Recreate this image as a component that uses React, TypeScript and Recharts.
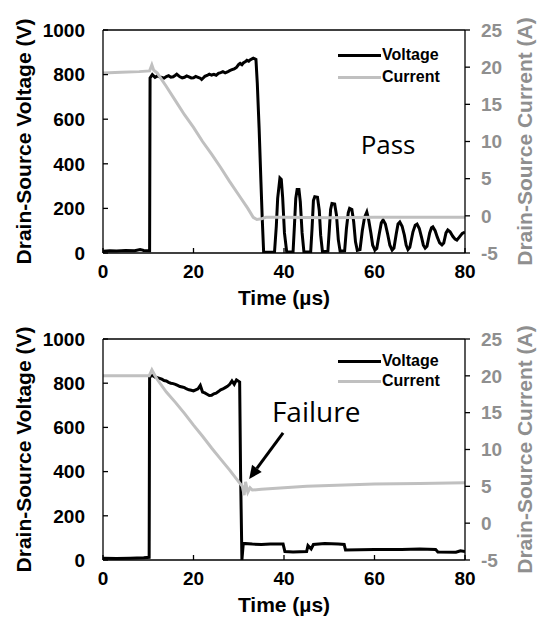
import { LineChart, Line, XAxis, YAxis, ReferenceLine, ReferenceDot, Legend } from "recharts";

const FONT = "'Liberation Sans', Arial, sans-serif";
const NOTE_FONT = "'Open Sans', sans-serif";
const VOLT_COLOR = "#000000";
const CURR_COLOR = "#c0c0c0";
const GRAY_TEXT = "#8f8f8f";

const timeTicks = [0, 20, 40, 60, 80];
const voltageTicks = [0, 200, 400, 600, 800, 1000];
const currentTicks = [-5, 0, 5, 10, 15, 20, 25];

// pass case, [time µs, volts]
const passVoltage: [number, number][] = [
  [0, 8], [1.5, 10], [3, 9], [5, 11], [7, 10], [8.2, 16], [9, 11], [10.3, 10],
  [10.4, 785], [10.9, 800], [11.5, 788], [12, 794], [12.5, 790], [13, 787], [13.5, 784], [14, 791],
  [14.5, 795], [15, 788], [15.5, 790], [16, 797], [16.3, 802], [16.8, 793], [17, 790], [17.5, 785],
  [18, 788], [18.5, 794], [19, 790], [19.5, 785], [20, 786], [20.5, 792], [21, 788], [21.5, 784],
  [21.8, 778], [22.2, 786], [22.5, 792], [23, 796], [23.5, 802], [24, 798], [24.5, 801], [25, 797],
  [25.5, 806], [26, 809], [26.5, 813], [27, 808], [27.5, 812], [28, 818], [28.5, 822], [29, 826],
  [29.5, 832], [30, 846], [30.3, 850], [30.7, 844], [31, 852], [31.5, 858], [31.8, 864], [32.2, 860],
  [32.5, 866], [33.2, 874], [33.8, 868],
  [34.1, 760], [34.5, 560], [34.9, 320], [35.2, 150], [35.5, 4],
  [37.9, 3], [38.3, 120], [38.6, 245], [38.9, 300], [39.1, 336], [39.4, 330], [39.7, 250], [40.1, 90], [40.6, 5], [42, 4],
  [42.3, 120], [42.6, 245], [42.9, 285], [43.3, 285], [43.6, 230], [44, 90], [44.4, 5], [45.9, 6],
  [46.2, 110], [46.5, 235], [46.8, 252], [47.4, 250], [47.8, 190], [48.1, 80], [48.5, 6], [49.7, 8],
  [50, 100], [50.3, 195], [50.6, 222], [51.2, 220], [51.6, 170], [52, 60], [52.4, 8], [53.4, 10],
  [53.8, 110], [54.2, 180], [54.5, 200], [55, 195], [55.4, 140], [55.8, 50], [56.2, 12], [56.8, 15],
  [57.3, 100], [57.8, 160], [58.3, 184], [58.7, 150], [59.2, 90], [59.6, 35], [60.1, 13], [60.5, 20],
  [61, 80], [61.5, 135], [61.9, 148], [62.4, 130], [62.9, 85], [63.4, 35], [63.9, 13], [64.3, 22],
  [64.8, 85], [65.2, 130], [65.6, 139], [66.1, 120], [66.6, 80], [67, 35], [67.4, 15], [67.8, 25],
  [68.5, 95], [69, 125], [69.4, 130], [69.9, 110], [70.4, 70], [70.8, 35], [71.2, 22], [71.6, 30],
  [72.2, 90], [72.6, 113], [72.9, 117], [73.4, 100], [73.9, 70], [74.4, 45], [74.9, 36], [75.3, 45],
  [75.8, 90], [76.2, 103], [76.7, 95], [77.3, 75], [77.8, 62], [78.2, 58], [78.7, 70], [79.4, 88], [80, 94],
];

// pass case, [time µs, amps]
const passCurrent: [number, number][] = [
  [0, 19.2], [4, 19.3], [8, 19.4], [10.3, 19.5], [10.8, 20.3], [11.2, 19.6], [12, 19.2],
  [14, 17.4], [16, 15.5], [18, 13.6], [20, 11.9], [22, 10.0], [24, 8.3], [26, 6.5],
  [28, 4.6], [30, 2.8], [32, 1.0], [33.2, -0.2], [34, -0.5], [35, -0.4], [36, -0.2],
  [40, -0.2], [50, -0.25], [60, -0.2], [70, -0.2], [80, -0.2],
];

// failure case, [time µs, volts]
const failVoltage: [number, number][] = [
  [0, 8], [3, 7], [6, 8], [9, 10], [10.2, 12], [10.3, 830], [11, 835], [11.5, 828], [12, 825],
  [12.5, 822], [13, 818], [13.5, 812], [14, 810], [14.5, 804], [15, 800], [15.5, 798], [16, 795],
  [16.5, 790], [17, 785], [17.5, 783], [18, 780], [18.5, 774], [19, 770], [19.5, 768], [20, 765],
  [20.5, 770], [21, 775], [21.5, 790], [22, 760], [22.5, 756], [23, 750], [23.5, 744], [24, 745],
  [24.5, 752], [25, 755], [25.5, 762], [26, 770], [26.5, 774], [27, 780], [27.5, 786], [28, 795],
  [28.5, 810], [29, 795], [29.5, 815], [30.2, 805], [30.4, 400], [30.7, 0], [31, 75],
  [33, 72], [35, 70], [37, 72], [39.8, 72], [40.2, 38], [42, 36], [45, 38], [45.3, 65],
  [46, 50], [46.5, 70], [49, 75], [52, 72], [53.3, 70], [53.6, 45], [60, 47], [66, 48],
  [70, 50], [73.5, 48], [74, 36], [78, 35], [79, 42], [80, 38],
];

// failure case, [time µs, amps]
const failCurrent: [number, number][] = [
  [0, 20.0], [5, 20.0], [10.2, 20.0], [10.8, 20.8], [11.5, 20.0], [12, 19.5], [14, 17.8],
  [16, 16.4], [18, 14.9], [20, 13.3], [22, 11.8], [24, 10.2], [26, 8.7], [28, 7.2], [30, 5.6],
  [30.8, 5.0], [31.2, 3.8], [31.5, 5.6], [32, 4.2], [32.5, 4.8], [33, 4.5], [35, 4.6],
  [40, 4.8], [45, 5.0], [50, 5.1], [55, 5.2], [60, 5.3], [70, 5.4], [80, 5.5],
];

const legendItems = [
  { name: "Voltage", color: VOLT_COLOR },
  { name: "Current", color: CURR_COLOR },
];

const arrowShape = (p: any) => {
  const { x1, y1, x2, y2 } = p;
  const ang = Math.atan2(y2 - y1, x2 - x1);
  const len = 13;
  const w = 6;
  const bx = x2 - len * Math.cos(ang);
  const by = y2 - len * Math.sin(ang);
  const pts = `${x2},${y2} ${bx + w * Math.sin(ang)},${by - w * Math.cos(ang)} ${bx - w * Math.sin(ang)},${by + w * Math.cos(ang)}`;
  return (
    <g>
      <line x1={x1} y1={y1} x2={bx} y2={by} stroke="#000" strokeWidth={3} />
      <polygon points={pts} fill="#000" />
    </g>
  );
};

interface PanelProps {
  voltage: [number, number][];
  current: [number, number][];
  top: number;
  axisHeight: number;
  titleOffset: number;
  legendTop: number;
  rowHeight: number;
  note: { text: string; t: number; v: number; size: number };
  arrow?: [{ x: number; y: number }, { x: number; y: number }];
}

function Panel({ voltage, current, top, axisHeight, titleOffset, legendTop, rowHeight, note, arrow }: PanelProps) {
  const vData = voltage.map(([t, v]) => ({ t, v }));
  const cData = current.map(([t, a]) => ({ t, a }));
  const tickStyle = { fill: "#000", fontSize: 19, fontWeight: "bold", fontFamily: FONT };

  const renderLegend = () => (
    <div>
      {legendItems.map((item) => (
        <div key={item.name} style={{ display: "flex", alignItems: "center", height: rowHeight }}>
          <div style={{ width: 43, height: 3, background: item.color, marginRight: 1 }} />
          <span style={{ fontFamily: FONT, fontWeight: "bold", fontSize: 16, color: "#000" }}>{item.name}</span>
        </div>
      ))}
    </div>
  );

  return (
    <LineChart width={542} height={313} margin={{ top, right: 0, bottom: 0, left: 0 }}>
      <XAxis
        type="number"
        dataKey="t"
        domain={[0, 80]}
        ticks={timeTicks}
        height={axisHeight}
        allowDataOverflow
        tickSize={-5}
        tickMargin={17}
        tick={tickStyle}
        axisLine={{ stroke: "#000", strokeWidth: 1.3 }}
        tickLine={{ stroke: "#000", strokeWidth: 1.3 }}
        label={{ value: "Time (µs)", position: "insideBottom", offset: titleOffset, fill: "#000", fontSize: 21, fontWeight: "bold", fontFamily: FONT }}
      />
      <YAxis
        yAxisId="left"
        domain={[0, 1000]}
        ticks={voltageTicks}
        width={103}
        allowDataOverflow
        tickSize={-5}
        tickMargin={23}
        tick={tickStyle}
        axisLine={{ stroke: "#000", strokeWidth: 1.3 }}
        tickLine={{ stroke: "#000", strokeWidth: 1.3 }}
        label={{ value: "Drain-Source Voltage (V)", angle: -90, position: "insideLeft", offset: 24, style: { textAnchor: "middle" }, fill: "#000", fontSize: 21, fontWeight: "bold", fontFamily: FONT }}
      />
      <YAxis
        yAxisId="right"
        orientation="right"
        domain={[-5, 25]}
        ticks={currentTicks}
        width={77}
        allowDataOverflow
        tickSize={5}
        tickMargin={11}
        tick={{ ...tickStyle, fill: GRAY_TEXT }}
        axisLine={{ stroke: "#000", strokeWidth: 1.3 }}
        tickLine={{ stroke: "#000", strokeWidth: 1.3 }}
        label={{ value: "Drain-Source Current (A)", angle: -90, position: "insideRight", offset: 17, style: { textAnchor: "middle" }, fill: GRAY_TEXT, fontSize: 21, fontWeight: "bold", fontFamily: FONT }}
      />
      <ReferenceLine yAxisId="left" y={1000} stroke="#000" strokeWidth={1.3} />
      <Line
        yAxisId="left"
        data={vData}
        dataKey="v"
        name="Voltage"
        type="linear"
        stroke={VOLT_COLOR}
        strokeWidth={3}
        dot={false}
        isAnimationActive={false}
      />
      <Line
        yAxisId="right"
        data={cData}
        dataKey="a"
        name="Current"
        type="linear"
        stroke={CURR_COLOR}
        strokeWidth={3}
        dot={false}
        isAnimationActive={false}
      />
      <ReferenceDot
        yAxisId="left"
        x={note.t}
        y={note.v}
        r={1}
        fill="none"
        stroke="none"
        label={{ value: note.text, position: "center", fill: "#000", fontSize: note.size, fontFamily: NOTE_FONT }}
      />
      {arrow && <ReferenceLine yAxisId="left" segment={arrow} shape={arrowShape} />}
      <Legend
        layout="horizontal"
        verticalAlign="middle"
        align="center"
        wrapperStyle={{ left: 338, top: legendTop, width: 120 }}
        content={renderLegend}
      />
    </LineChart>
  );
}

export default function App() {
  return (
    <div style={{ position: "absolute", left: 0, top: 0, width: 542, height: 626, background: "#fff" }}>
      <Panel
        voltage={passVoltage}
        current={passCurrent}
        top={30}
        axisHeight={60}
        titleOffset={8}
        legendTop={44}
        rowHeight={22}
        note={{ text: "Pass", t: 63, v: 484, size: 26 }}
      />
      <Panel
        voltage={failVoltage}
        current={failCurrent}
        top={26}
        axisHeight={66}
        titleOffset={14}
        legendTop={38}
        rowHeight={20}
        note={{ text: "Failure", t: 47.1, v: 670, size: 28 }}
        arrow={[{ x: 39.8, y: 575 }, { x: 32.3, y: 367 }]}
      />
    </div>
  );
}
